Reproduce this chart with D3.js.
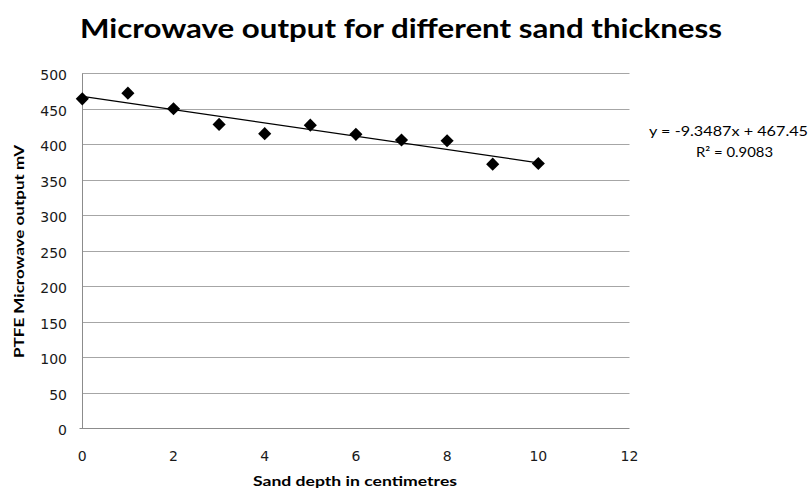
<!DOCTYPE html>
<html>
<head>
<meta charset="utf-8">
<script src="https://cdn.jsdelivr.net/npm/d3@7"></script>
<style>
  html, body { margin: 0; padding: 0; background: #fff; }
  svg { display: block; }
</style>
</head>
<body>
<svg id="chart" width="812" height="488"></svg>
<script>
// ---- data ----
const depths = [0, 1, 2, 3, 4, 5, 6, 7, 8, 9, 10];
const outputs = [464, 472, 450, 428, 415, 427, 414, 406, 405, 372, 373];
const xTicks = [0, 2, 4, 6, 8, 10, 12];
const yTicks = [0, 50, 100, 150, 200, 250, 300, 350, 400, 450, 500];
const trendCoef = [-9.3487, 467.45]; // slope, intercept
const trendRange = [0, 10];
const titleText = "Microwave output for different sand thickness";
const xTitle = "Sand depth in centimetres";
const yTitle = "PTFE Microwave output mV";
const eqLines = ["y = -9.3487x + 467.45", "R² = 0.9083"];

// ---- layout ----
const svg = d3.select("#chart");
const x = d3.scaleLinear().domain([0, 12]).range([82.3, 629.5]);
const y = d3.scaleLinear().domain([0, 500]).range([428.3, 73.3]);

// gridlines
svg.append("g")
  .selectAll("line")
  .data(yTicks.filter(d => d > 0))
  .join("line")
  .attr("x1", x(0)).attr("x2", x(12))
  .attr("y1", d => Math.round(y(d)) + 0.5).attr("y2", d => Math.round(y(d)) + 0.5)
  .attr("stroke", "#a6a6a6").attr("stroke-width", 1);

// axes lines
const xAxisY = Math.round(y(0)) + 0.5;
const yAxisX = Math.round(x(0)) + 0.5;
svg.append("line")
  .attr("x1", yAxisX - 3).attr("x2", x(12))
  .attr("y1", xAxisY).attr("y2", xAxisY)
  .attr("stroke", "#8c8c8c").attr("stroke-width", 1);
svg.append("line")
  .attr("x1", yAxisX).attr("x2", yAxisX)
  .attr("y1", y(500)).attr("y2", xAxisY)
  .attr("stroke", "#8c8c8c").attr("stroke-width", 1);

// tick labels
svg.append("g")
  .selectAll("text")
  .data(yTicks)
  .join("text")
  .attr("x", 67)
  .attr("y", d => y(d) + 7)
  .attr("text-anchor", "end")
  .attr("font-family", "DejaVu Sans, Verdana, sans-serif")
  .attr("font-size", 14)
  .attr("fill", "#1a1a1a")
  .text(d => d);

svg.append("g")
  .selectAll("text")
  .data(xTicks)
  .join("text")
  .attr("x", d => x(d))
  .attr("y", 460.5)
  .attr("text-anchor", "middle")
  .attr("font-family", "DejaVu Sans, Verdana, sans-serif")
  .attr("font-size", 14)
  .attr("fill", "#1a1a1a")
  .text(d => d);

// trendline
svg.append("line")
  .attr("x1", x(trendRange[0]))
  .attr("y1", y(trendCoef[0] * trendRange[0] + trendCoef[1]))
  .attr("x2", x(trendRange[1]))
  .attr("y2", y(trendCoef[0] * trendRange[1] + trendCoef[1]))
  .attr("stroke", "#000").attr("stroke-width", 1.3);

// markers (diamonds)
const diamond = d3.symbol().type(d3.symbolDiamond2).size(110);
svg.append("g")
  .selectAll("path")
  .data(depths.map((d, i) => [d, outputs[i]]))
  .join("path")
  .attr("d", diamond)
  .attr("transform", d => `translate(${x(d[0])},${y(d[1])})`)
  .attr("fill", "#000");

// title
svg.append("text")
  .attr("x", 80).attr("y", 37.5)
  .attr("font-family", "Lato, 'Open Sans', sans-serif")
  .attr("font-weight", "bold")
  .attr("font-size", 27)
  .attr("textLength", 642)
  .attr("lengthAdjust", "spacingAndGlyphs")
  .attr("fill", "#000")
  .text(titleText);

// x axis title
svg.append("text")
  .attr("x", 253).attr("y", 485.5)
  .attr("font-family", "Lato, 'Open Sans', sans-serif")
  .attr("font-weight", "bold")
  .attr("font-size", 13.5)
  .attr("textLength", 204)
  .attr("lengthAdjust", "spacingAndGlyphs")
  .attr("fill", "#000")
  .text(xTitle);

// y axis title
svg.append("text")
  .attr("transform", "translate(24,358) rotate(-90)")
  .attr("x", 0).attr("y", 0)
  .attr("font-family", "Lato, 'Open Sans', sans-serif")
  .attr("font-weight", "bold")
  .attr("font-size", 13)
  .attr("textLength", 213)
  .attr("lengthAdjust", "spacingAndGlyphs")
  .attr("fill", "#000")
  .text(yTitle);

// equation label
svg.append("text")
  .attr("x", 649).attr("y", 135.5)
  .attr("font-family", "Lato, 'Open Sans', sans-serif")
  .attr("font-size", 14)
  .attr("textLength", 159)
  .attr("lengthAdjust", "spacingAndGlyphs")
  .attr("fill", "#000")
  .text(eqLines[0]);
svg.append("text")
  .attr("x", 696).attr("y", 156.5)
  .attr("font-family", "Lato, 'Open Sans', sans-serif")
  .attr("font-size", 14)
  .attr("textLength", 77)
  .attr("lengthAdjust", "spacingAndGlyphs")
  .attr("fill", "#000")
  .text(eqLines[1]);
</script>
</body>
</html>
